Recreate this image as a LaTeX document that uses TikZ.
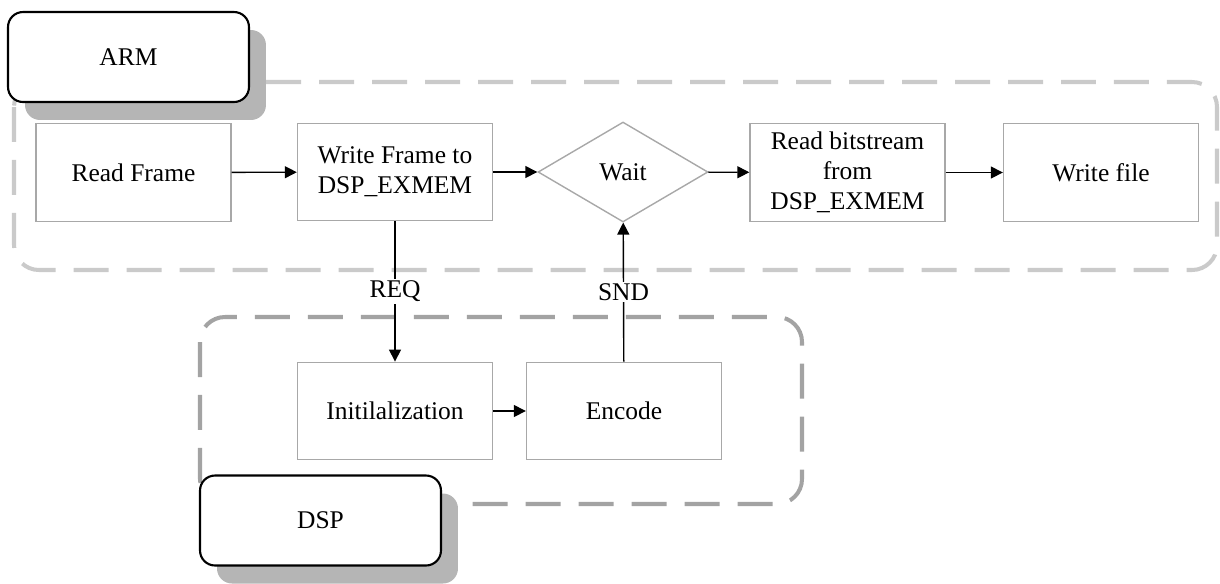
\documentclass[tikz,border=0pt]{standalone}
\usepackage{fontspec}
\setmainfont{Liberation Serif}
\usetikzlibrary{arrows.meta,shapes.geometric,shadows}
\definecolor{boxgray}{HTML}{A8A8A8}
\definecolor{armgray}{HTML}{CACACA}
\definecolor{dspgray}{HTML}{A3A3A3}
\definecolor{shadegray}{HTML}{B5B5B5}
\tikzset{
  procbox/.style={draw=boxgray, line width=0.8pt, fill=white, minimum width=3.9cm, minimum height=1.95cm, align=center, inner sep=2pt},
  waitbox/.style={draw=boxgray, line width=0.8pt, diamond, aspect=1.7, minimum width=3.4cm, minimum height=2cm, inner sep=0pt},
  groupbox/.style={draw=black, line width=1.2pt, rounded corners=0.3cm, fill=white, minimum width=4.82cm, minimum height=1.8cm,
    drop shadow={shadow xshift=0.34cm, shadow yshift=-0.36cm, opacity=1, fill=shadegray}},
  frame/.style={line width=2.3pt, dash pattern=on 0.7cm off 0.36cm, rounded corners=0.5cm},
  flow/.style={-{Triangle[length=0.24cm,width=0.24cm]}, line width=0.8pt, black}
}
\begin{document}
\begin{tikzpicture}[x=0.02cm, y=-0.02cm, font=\fontsize{14.5}{17}\selectfont]
	\useasboundingbox (0,0) rectangle (1220,583);
	% dashed regions
	\draw[frame, armgray] (14,82) rectangle (1217,270);
	\draw[frame, dspgray] (200,317) rectangle (802,504);
	% ARM side
	\node[procbox] (read) at (133.5,172.5) {Read Frame};
	\node[procbox] (write) at (395,172) {Write Frame to\\DSP\_EXMEM};
	\node[waitbox] (wait) at (623,172) {Wait};
	\node[procbox] (bits) at (847.5,172.5) {Read bitstream\\from\\DSP\_EXMEM};
	\node[procbox] (file) at (1101,172.5) {Write file};
	% DSP side
	\node[procbox] (init) at (395,411) {Initilalization};
	\node[procbox] (enc) at (624,411) {Encode};
	% labels
	\node[groupbox] (arm) at (128.5,57) {ARM};
	\node[groupbox] (dsp) at (320.5,520.5) {DSP};
	\draw[flow] (read) -- (write);
	\draw[flow] (write) -- (wait);
	\draw[flow] (wait) -- (bits);
	\draw[flow] (bits) -- (file);
	\draw[flow] (init) -- (enc);
	\draw[flow] (write) -- node[fill=white, inner sep=1pt, pos=0.5]{REQ} (init);
	\draw[flow] (enc) -- node[fill=white, inner sep=1pt, pos=0.5]{SND} (wait);
\end{tikzpicture}
\end{document}
